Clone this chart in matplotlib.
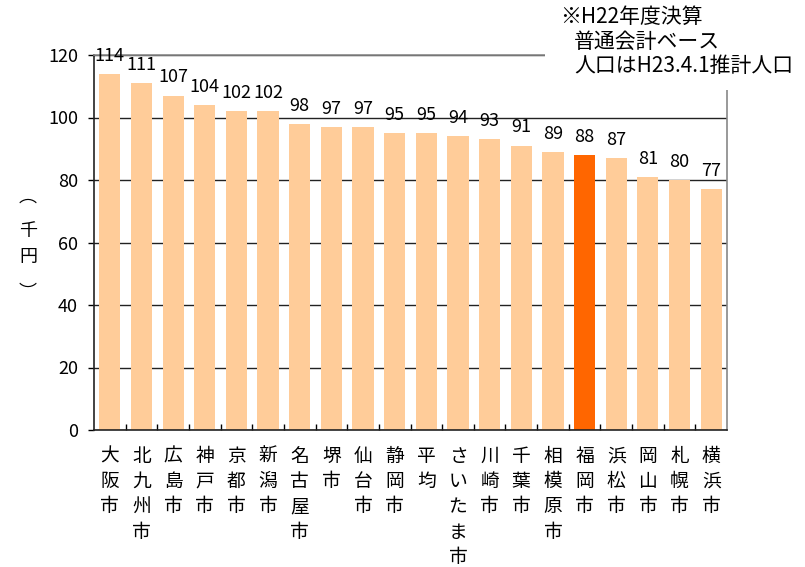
import matplotlib.pyplot as plt
from matplotlib.patches import Rectangle

plt.rcParams['font.family'] = ['Noto Sans CJK JP', 'DejaVu Sans']

# 1人あたり額（千円）
cities = ['大阪市', '北九州市', '広島市', '神戸市', '京都市', '新潟市', '名古屋市', '堺市',
          '仙台市', '静岡市', '平均', 'さいたま市', '川崎市', '千葉市', '相模原市', '福岡市',
          '浜松市', '岡山市', '札幌市', '横浜市']
values = [114, 111, 107, 104, 102, 102, 98, 97, 97, 95, 95, 94, 93, 91, 89, 88, 87, 81, 80, 77]
highlight = '福岡市'
yticks = [0, 20, 40, 60, 80, 100, 120]

colors = ['#FF6600' if c == highlight else '#FFCC99' for c in cities]

fig = plt.figure(figsize=(8.05, 5.67), dpi=100)
ax = fig.add_axes([94 / 805, 1 - 430 / 567, (727 - 94) / 805, (430 - 55) / 567])

x = range(len(cities))
ax.bar(x, values, width=0.67, color=colors, zorder=2)
for xi, v in zip(x, values):
    ax.text(xi, v + 4.2, str(v), ha='center', va='baseline', fontsize=13,
            zorder=3, clip_on=False)

ax.set_xlim(-0.5, len(cities) - 0.5)
ax.set_ylim(0, 120)
ax.set_yticks(yticks)
ax.set_yticklabels([str(t) for t in yticks], fontsize=13)
ax.tick_params(axis='y', direction='out', length=4, width=1, pad=7.5)
ax.grid(axis='y', color='#222222', linewidth=1, zorder=0)

# ticks between categories, pointing up
ax.set_xticks([i + 0.5 for i in range(len(cities) - 1)], minor=True)
ax.set_xticks([])
ax.tick_params(axis='x', which='minor', direction='in', length=4, width=1)

for xi, c in zip(x, cities):
    ax.text(xi, -5, '\n'.join(c), ha='center', va='top', fontsize=13.5,
            linespacing=1.27, clip_on=False)

for s in ['left', 'bottom']:
    ax.spines[s].set_color('#222222')
    ax.spines[s].set_linewidth(1.2)
for s in ['top', 'right']:
    ax.spines[s].set_color('#888888')
    ax.spines[s].set_linewidth(1.2)

# vertical unit label, one character per line
for ch, ypix in zip('︵千円︶', [197, 231, 257, 293]):
    fig.text(28 / 805, 1 - ypix / 567, ch, ha='center', va='center', fontsize=13)

# note box in the upper right
fig.patches.append(Rectangle((545 / 805, 1 - 90 / 567), 260 / 805, 90 / 567,
                             transform=fig.transFigure, facecolor='white',
                             edgecolor='none', zorder=5))
fig.text(560 / 805, 1 - 17 / 567, '※H22年度決算', fontsize=15, va='center', zorder=6)
fig.text(574 / 805, 1 - 42 / 567, '普通会計ベース', fontsize=15, va='center', zorder=6)
fig.text(574 / 805, 1 - 66 / 567, '人口はH23.4.1推計人口', fontsize=15, va='center', zorder=6)

fig.savefig('out.png', dpi=100)
